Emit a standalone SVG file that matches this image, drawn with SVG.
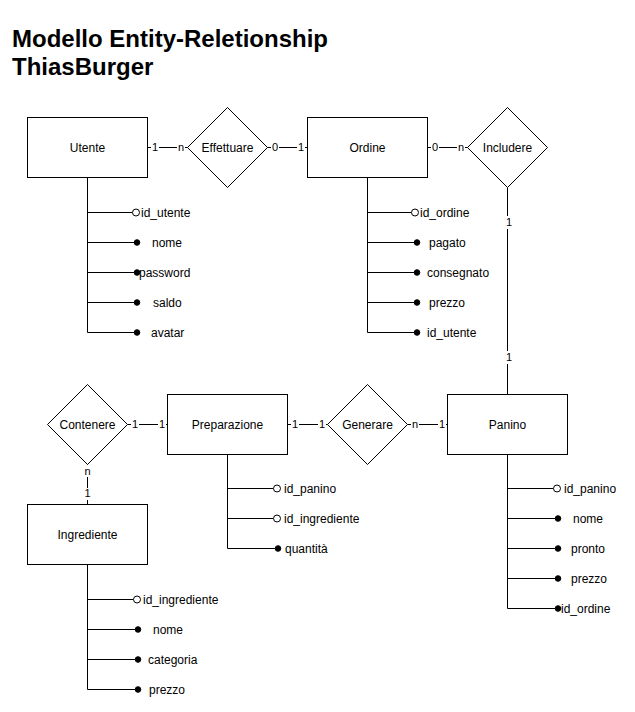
<svg xmlns="http://www.w3.org/2000/svg" width="635" height="712" viewBox="0 0 635 712">
<style>
.ent{fill:#fff;stroke:#000;stroke-width:1}
.rel{fill:#fff;stroke:#000;stroke-width:1}
.ln{stroke:#000;stroke-width:1;fill:none}
.t{font-family:"Liberation Sans",Arial,sans-serif;font-size:12px;fill:#000}
.c{text-anchor:middle}
.card{font-family:"Liberation Sans",Arial,sans-serif;font-size:11px;fill:#000;text-anchor:middle}
.lb{fill:#fff}
.open{fill:#fff;stroke:#000;stroke-width:1}
.fill{fill:#000;stroke:#000;stroke-width:1}
.title{font-family:"Liberation Sans",Arial,sans-serif;font-size:24px;font-weight:bold;fill:#000}
</style>
<rect width="635" height="712" fill="#fff"/>
<text class="title" x="12" y="47">Modello Entity-Reletionship</text>
<text class="title" x="12" y="75">ThiasBurger</text>

<g id="connectors">
  <line class="ln" x1="147.5" y1="147.5" x2="187.5" y2="147.5"/>
  <line class="ln" x1="267.5" y1="147.5" x2="307.5" y2="147.5"/>
  <line class="ln" x1="427.5" y1="147.5" x2="467.5" y2="147.5"/>
  <line class="ln" x1="507.5" y1="187.5" x2="507.5" y2="394.5"/>
  <line class="ln" x1="127.5" y1="424.5" x2="167.5" y2="424.5"/>
  <line class="ln" x1="287.5" y1="424.5" x2="327.5" y2="424.5"/>
  <line class="ln" x1="407.5" y1="424.5" x2="447.5" y2="424.5"/>
  <line class="ln" x1="87.5" y1="464.5" x2="87.5" y2="504.5"/>
  <rect class="lb" x="151" y="141" width="8" height="13"/><text class="card" x="155" y="151">1</text>
  <rect class="lb" x="177" y="141" width="8" height="13"/><text class="card" x="181" y="151">n</text>
  <rect class="lb" x="271" y="141" width="8" height="13"/><text class="card" x="275" y="151">0</text>
  <rect class="lb" x="297" y="141" width="8" height="13"/><text class="card" x="301" y="151">1</text>
  <rect class="lb" x="431" y="141" width="8" height="13"/><text class="card" x="435" y="151">0</text>
  <rect class="lb" x="457" y="141" width="8" height="13"/><text class="card" x="461" y="151">n</text>
  <rect class="lb" x="504" y="216" width="9" height="13"/><text class="card" x="509" y="226">1</text>
  <rect class="lb" x="504" y="351" width="9" height="13"/><text class="card" x="509" y="361">1</text>
  <rect class="lb" x="131" y="418" width="8" height="13"/><text class="card" x="135" y="428">1</text>
  <rect class="lb" x="158" y="418" width="8" height="13"/><text class="card" x="162" y="428">1</text>
  <rect class="lb" x="291" y="418" width="8" height="13"/><text class="card" x="295" y="428">1</text>
  <rect class="lb" x="318" y="418" width="8" height="13"/><text class="card" x="322" y="428">1</text>
  <rect class="lb" x="411" y="418" width="8" height="13"/><text class="card" x="415" y="428">n</text>
  <rect class="lb" x="438" y="418" width="8" height="13"/><text class="card" x="442" y="428">1</text>
  <rect class="lb" x="83" y="465" width="9" height="12"/><text class="card" x="87.5" y="475">n</text>
  <rect class="lb" x="83" y="488" width="9" height="12"/><text class="card" x="87.5" y="497">1</text>
</g>

<g id="Utente">
  <rect class="ent" x="27.5" y="117.5" width="120" height="60"/>
  <text class="t c" x="87.5" y="151.5">Utente</text>
  <path class="ln" d="M87.5 177.5V332.5M87.5 212.5H132.5M87.5 242.5H134M87.5 272.5H134M87.5 302.5H134M87.5 332.5H134"/>
  <circle class="open" cx="136" cy="212.5" r="3.5"/>
  <circle class="fill" cx="137" cy="242.5" r="2.8"/>
  <circle class="fill" cx="137" cy="272.5" r="2.8"/>
  <circle class="fill" cx="137" cy="302.5" r="2.8"/>
  <circle class="fill" cx="137" cy="332.5" r="2.8"/>
  <text class="t" x="141" y="216.5">id_utente</text>
  <text class="t" x="152" y="246.5">nome</text>
  <text class="t" x="139" y="276.5">password</text>
  <text class="t" x="153" y="306.5">saldo</text>
  <text class="t" x="151" y="336.5">avatar</text>
</g>

<g id="Effettuare">
  <polygon class="rel" points="187.5,147.5 227.5,107.5 267.5,147.5 227.5,187.5"/>
  <text class="t c" x="227.5" y="151.5">Effettuare</text>
</g>

<g id="Ordine">
  <rect class="ent" x="307.5" y="117.5" width="120" height="60"/>
  <text class="t c" x="367.5" y="151.5">Ordine</text>
  <path class="ln" d="M367.5 177.5V332.5M367.5 212.5H411.5M367.5 242.5H414M367.5 272.5H414M367.5 302.5H414M367.5 332.5H414"/>
  <circle class="open" cx="415" cy="212.5" r="3.5"/>
  <circle class="fill" cx="417" cy="242.5" r="2.8"/>
  <circle class="fill" cx="417" cy="272.5" r="2.8"/>
  <circle class="fill" cx="417" cy="302.5" r="2.8"/>
  <circle class="fill" cx="417" cy="332.5" r="2.8"/>
  <text class="t" x="420" y="216.5">id_ordine</text>
  <text class="t" x="429" y="246.5">pagato</text>
  <text class="t" x="427" y="276.5">consegnato</text>
  <text class="t" x="429" y="306.5">prezzo</text>
  <text class="t" x="427" y="336.5">id_utente</text>
</g>

<g id="Includere">
  <polygon class="rel" points="467.5,147.5 507.5,107.5 547.5,147.5 507.5,187.5"/>
  <text class="t c" x="507.5" y="151.5">Includere</text>
</g>

<g id="Contenere">
  <polygon class="rel" points="47.5,424.5 87.5,384.5 127.5,424.5 87.5,464.5"/>
  <text class="t c" x="87.5" y="428.5">Contenere</text>
</g>

<g id="Preparazione">
  <rect class="ent" x="167.5" y="394.5" width="120" height="60"/>
  <text class="t c" x="227.5" y="428.5">Preparazione</text>
  <path class="ln" d="M227.5 454.5V548.5M227.5 488.5H273.5M227.5 518.5H273.5M227.5 548.5H275"/>
  <circle class="open" cx="277" cy="488.5" r="3.5"/>
  <circle class="open" cx="277" cy="518.5" r="3.5"/>
  <circle class="fill" cx="278" cy="548.5" r="2.8"/>
  <text class="t" x="284" y="492.5">id_panino</text>
  <text class="t" x="284" y="522.5">id_ingrediente</text>
  <text class="t" x="285" y="552.5">quantità</text>
</g>

<g id="Generare">
  <polygon class="rel" points="327.5,424.5 367.5,384.5 407.5,424.5 367.5,464.5"/>
  <text class="t c" x="367.5" y="428.5">Generare</text>
</g>

<g id="Panino">
  <rect class="ent" x="447.5" y="394.5" width="120" height="60"/>
  <text class="t c" x="507.5" y="428.5">Panino</text>
  <path class="ln" d="M507.5 454.5V608.5M507.5 488.5H553.5M507.5 518.5H555M507.5 548.5H555M507.5 578.5H555M507.5 608.5H555"/>
  <circle class="open" cx="557" cy="488.5" r="3.5"/>
  <circle class="fill" cx="558" cy="518.5" r="2.8"/>
  <circle class="fill" cx="558" cy="548.5" r="2.8"/>
  <circle class="fill" cx="558" cy="578.5" r="2.8"/>
  <circle class="fill" cx="558" cy="608.5" r="2.8"/>
  <text class="t" x="564" y="492.5">id_panino</text>
  <text class="t" x="573" y="522.5">nome</text>
  <text class="t" x="571" y="552.5">pronto</text>
  <text class="t" x="571" y="582.5">prezzo</text>
  <text class="t" x="561" y="612.5">id_ordine</text>
</g>

<g id="Ingrediente">
  <rect class="ent" x="27.5" y="504.5" width="120" height="60"/>
  <text class="t c" x="87.5" y="538.5">Ingrediente</text>
  <path class="ln" d="M87.5 564.5V689.5M87.5 599.5H133.5M87.5 629.5H135M87.5 659.5H135M87.5 689.5H135"/>
  <circle class="open" cx="137" cy="599.5" r="3.5"/>
  <circle class="fill" cx="138" cy="629.5" r="2.8"/>
  <circle class="fill" cx="138" cy="659.5" r="2.8"/>
  <circle class="fill" cx="138" cy="689.5" r="2.8"/>
  <text class="t" x="143" y="603.5">id_ingrediente</text>
  <text class="t" x="153" y="633.5">nome</text>
  <text class="t" x="148" y="663.5">categoria</text>
  <text class="t" x="149" y="693.5">prezzo</text>
</g>
</svg>
